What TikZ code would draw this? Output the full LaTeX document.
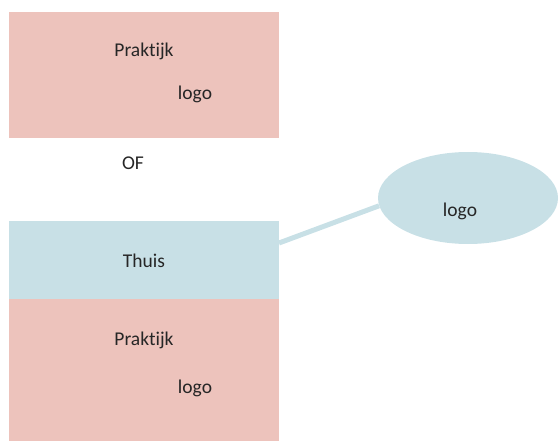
\documentclass[tikz,border=0pt]{standalone}
\usepackage{fontspec}
\setmainfont{Carlito}[Ligatures=CommonOff]
\usetikzlibrary{shapes.geometric}
\begin{document}
\begin{tikzpicture}[x=1pt,y=-1pt,
  pinkbox/.style={fill=pinkfill,draw=none},
  bluebox/.style={fill=bluefill,draw=none},
  lbl/.style={anchor=base,inner sep=0pt,text=txt,font=\fontsize{19.5}{22}\selectfont}]
\definecolor{pinkfill}{HTML}{EDC3BC}
\definecolor{bluefill}{HTML}{C8E0E6}
\definecolor{txt}{HTML}{262626}
\useasboundingbox (0,0) rectangle (560,441);
% top practice block
\node[pinkbox,minimum width=270pt,minimum height=126pt,inner sep=0pt,anchor=north west] (top) at (9,12) {};
\node[lbl] (topname) at (144,57) {Praktijk};
\node[lbl] (toplogo) at (195,100) {logo};
% separator
\node[lbl] (of) at (133,170) {OF};
% home block with practice block beneath
\node[bluebox,minimum width=270pt,minimum height=78pt,inner sep=0pt,anchor=north west] (home) at (9,221) {};
\node[pinkbox,minimum width=270pt,minimum height=142pt,inner sep=0pt,anchor=north west] (bottom) at (9,299) {};
\node[lbl] (homename) at (144,267) {Thuis};
\node[lbl] (botname) at (144,345) {Praktijk};
\node[lbl] (botlogo) at (195,393) {logo};
% callout
\coordinate (hook) at (279,243);
\node[ellipse,fill=bluefill,minimum width=180pt,minimum height=92pt,inner sep=0pt] (bubble) at (468,198) {};
\node[lbl] (bubbletext) at (460,216) {logo};
\draw[bluefill,line width=5pt] (hook) -- (bubble.185);
\end{tikzpicture}
\end{document}
